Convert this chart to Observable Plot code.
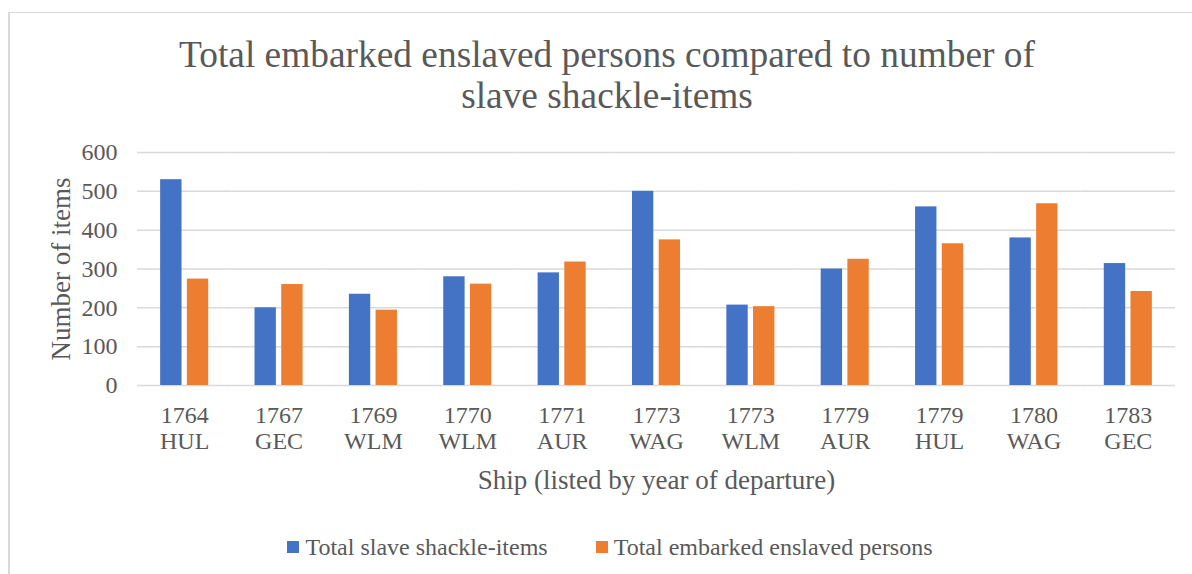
<!DOCTYPE html>
<html>
<head>
<meta charset="utf-8">
<script src="https://cdn.jsdelivr.net/npm/d3@7"></script>
<script src="https://cdn.jsdelivr.net/npm/@observablehq/plot@0.6"></script>
<style>
  html, body { margin: 0; padding: 0; background: #fff; width: 1192px; height: 574px; overflow: hidden; position: relative; }
  body { font-family: "Times New Roman", "Liberation Serif", serif; color: #595959; }
  #frame { position: absolute; left: 8px; top: 12px; width: 1400px; height: 800px; border-left: 2px solid #d9d9d9; border-top: 1px solid #d9d9d9; }
  #title { position: absolute; left: 9px; top: 34px; width: 1196px; text-align: center; font-size: 37.4px; line-height: 41px; color: #595959; }
  #chart { position: absolute; left: 0; top: 140px; }
  #legend { position: absolute; left: 9px; top: 533px; width: 1202px; display: flex; justify-content: center; font-size: 24px; line-height: 28px; color: #595959; }
  .item { display: flex; align-items: center; margin: 0 24px; }
  .sw { width: 12px; height: 12px; margin-right: 6px; }
</style>
</head>
<body>
<div id="frame"></div>
<div id="title"></div>
<div id="chart"></div>
<div id="legend"></div>
<script>
const titleLines = ["Total embarked enslaved persons compared to number of", "slave shackle-items"];
const years = ["1764", "1767", "1769", "1770", "1771", "1773", "1773", "1779", "1779", "1780", "1783"];
const ships = ["HUL", "GEC", "WLM", "WLM", "AUR", "WAG", "WLM", "AUR", "HUL", "WAG", "GEC"];
const seriesNames = ["Total slave shackle-items", "Total embarked enslaved persons"];
const shackles = [530, 200, 235, 280, 290, 500, 207, 300, 460, 380, 314];
const embarked = [274, 260, 194, 261, 318, 375, 203, 325, 365, 468, 242];
const seriesColors = ["#4472C4", "#ED7D31"];
const yTicks = [0, 100, 200, 300, 400, 500, 600];
const yLabel = "Number of items";
const xLabel = "Ship (listed by year of departure)";

const cats = years.map((y, i) => y + "\n" + ships[i]);
const data = [];
cats.forEach((c, i) => {
  data.push({cat: c, series: seriesNames[0], value: shackles[i]});
  data.push({cat: c, series: seriesNames[1], value: embarked[i]});
});

document.getElementById("title").innerHTML = titleLines.join("<br>");

const font = '"Times New Roman", "Liberation Serif", serif';
const plot = Plot.plot({
  width: 1192,
  height: 360,
  marginTop: 12,
  marginBottom: 115,
  marginLeft: 137,
  marginRight: 17,
  style: {fontFamily: font, color: "#595959", background: "transparent", overflow: "visible"},
  fx: {domain: cats, paddingInner: 0, paddingOuter: 0, round: false},
  x: {domain: seriesNames, paddingInner: 0.2, paddingOuter: 0.867, round: false, axis: null},
  y: {domain: [0, 600]},
  color: {domain: seriesNames, range: seriesColors},
  marks: [
    Plot.ruleY(yTicks, {stroke: "#d9d9d9", strokeWidth: 1.5}),
    Plot.barY(data, {fx: "cat", x: "series", y: "value", fill: "series"}),
    Plot.axisY({ticks: yTicks, tickSize: 0, tickPadding: 20, fontSize: 24, label: null, fill: "#595959"}),
    Plot.axisFx({anchor: "bottom", tickSize: 0, tickPadding: 20, fontSize: 24, lineHeight: 1.05, label: null, fill: "#595959"}),
    Plot.text([yLabel], {facet: "super", frameAnchor: "left", textAnchor: "middle", rotate: -90, dx: -76, fontSize: 27, fill: "#595959"}),
    Plot.text([xLabel], {facet: "super", frameAnchor: "bottom", dy: 103, fontSize: 27, fill: "#595959"})
  ]
});
document.getElementById("chart").appendChild(plot);

const legend = document.getElementById("legend");
seriesNames.forEach((s, i) => {
  const item = document.createElement("div");
  item.className = "item";
  const sw = document.createElement("span");
  sw.className = "sw";
  sw.style.background = seriesColors[i];
  const t = document.createElement("span");
  t.textContent = s;
  item.appendChild(sw);
  item.appendChild(t);
  legend.appendChild(item);
});
</script>
</body>
</html>
